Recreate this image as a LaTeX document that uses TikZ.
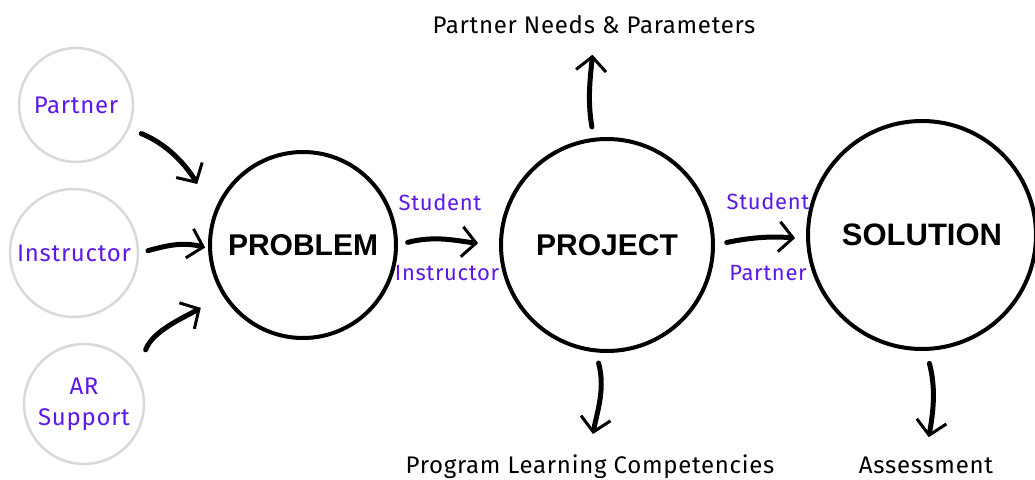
\documentclass[tikz,border=0pt]{standalone}
\usepackage{fontspec}
\setmainfont{Fira Sans}
\newfontfamily\labelfont[LetterSpace=3]{Fira Sans}
\newfontfamily\headfont{Liberation Sans}
\usetikzlibrary{arrows.meta}
\definecolor{labelpurple}{HTML}{5E17EB}

\begin{document}
\begin{tikzpicture}[x=1pt, y=1pt,
            source/.style={circle, draw=black!15, line width=2.5pt, inner sep=0pt, align=center, font=\labelfont\fontsize{24}{31}\selectfont, text=labelpurple},
            stage/.style={circle, draw=black, line width=4pt, inner sep=0pt, font=\headfont\bfseries\fontsize{30}{36}\selectfont},
            role/.style={anchor=base, font=\labelfont\fontsize{22}{26}\selectfont, text=labelpurple},
            outcome/.style={anchor=base, font=\labelfont\fontsize{24}{28}\selectfont},
            brush/.style={line width=5pt, line cap=round, -{Straight Barb[length=14pt, width=30pt, line width=3pt]}}
        ]
\useasboundingbox (0,0) rectangle (1035,-479);

% Sources
            \node[source, minimum size=114pt] (partner) at (76,-105) {Partner};
            \node[source, minimum size=128pt] (instructor) at (74,-253) {Instructor};
            \node[source, minimum size=120pt] (arsupport) at (84,-404) {AR\\Support};

% Stages
            \node[stage, minimum size=186pt] (problem) at (303,-245) {PROBLEM};
            \node[stage, minimum size=212pt] (project) at (607,-245) {PROJECT};
            \node[stage, minimum size=228pt] (solution) at (922,-235) {\fontsize{31}{36}\selectfont SOLUTION};

% Roles
            \node[role] (student1) at (440,-210) {Student};
            \node[role] (instructor1) at (447,-280) {Instructor};
            \node[role] (student2) at (768,-209) {Student};
            \node[role] (partner2) at (768,-280) {Partner};

% Outcomes
            \node[outcome] (needs) at (594,-33) {Partner Needs \& Parameters};
            \node[outcome] (competencies) at (590,-473) {Program Learning Competencies};
            \node[outcome] (assessment) at (926,-473) {Assessment};

% Inputs
            \draw[brush, shorten <=13pt, shorten >=33pt] (partner.-24) to[out=-22, in=120] (problem.160);
            \draw[brush, shorten <=9pt, shorten >=3pt] (instructor.east) to[out=15, in=165] (problem.182);
            \draw[brush, shorten <=25pt, shorten >=25pt] (arsupport.30) to[out=70, in=210] (problem.212);

% Stage links
            \draw[brush, shorten <=10pt, shorten >=21pt] (problem.east) to[out=15, in=175] (project.west);
            \draw[brush, shorten <=12pt, shorten >=11pt] (project.east) to[out=12, in=175] (solution.182);

% Outputs
            \draw[brush, shorten <=11pt, shorten >=18pt] (project.97) to[out=100, in=-95] (needs.south);
            \draw[brush, shorten <=11pt, shorten >=17pt] (project.-96) to[out=-75, in=80] (competencies.north);
            \draw[brush, shorten <=13pt, shorten >=16pt] (solution.-88) to[out=-75, in=80] (assessment.north);

        \end{tikzpicture}
\end{document}
